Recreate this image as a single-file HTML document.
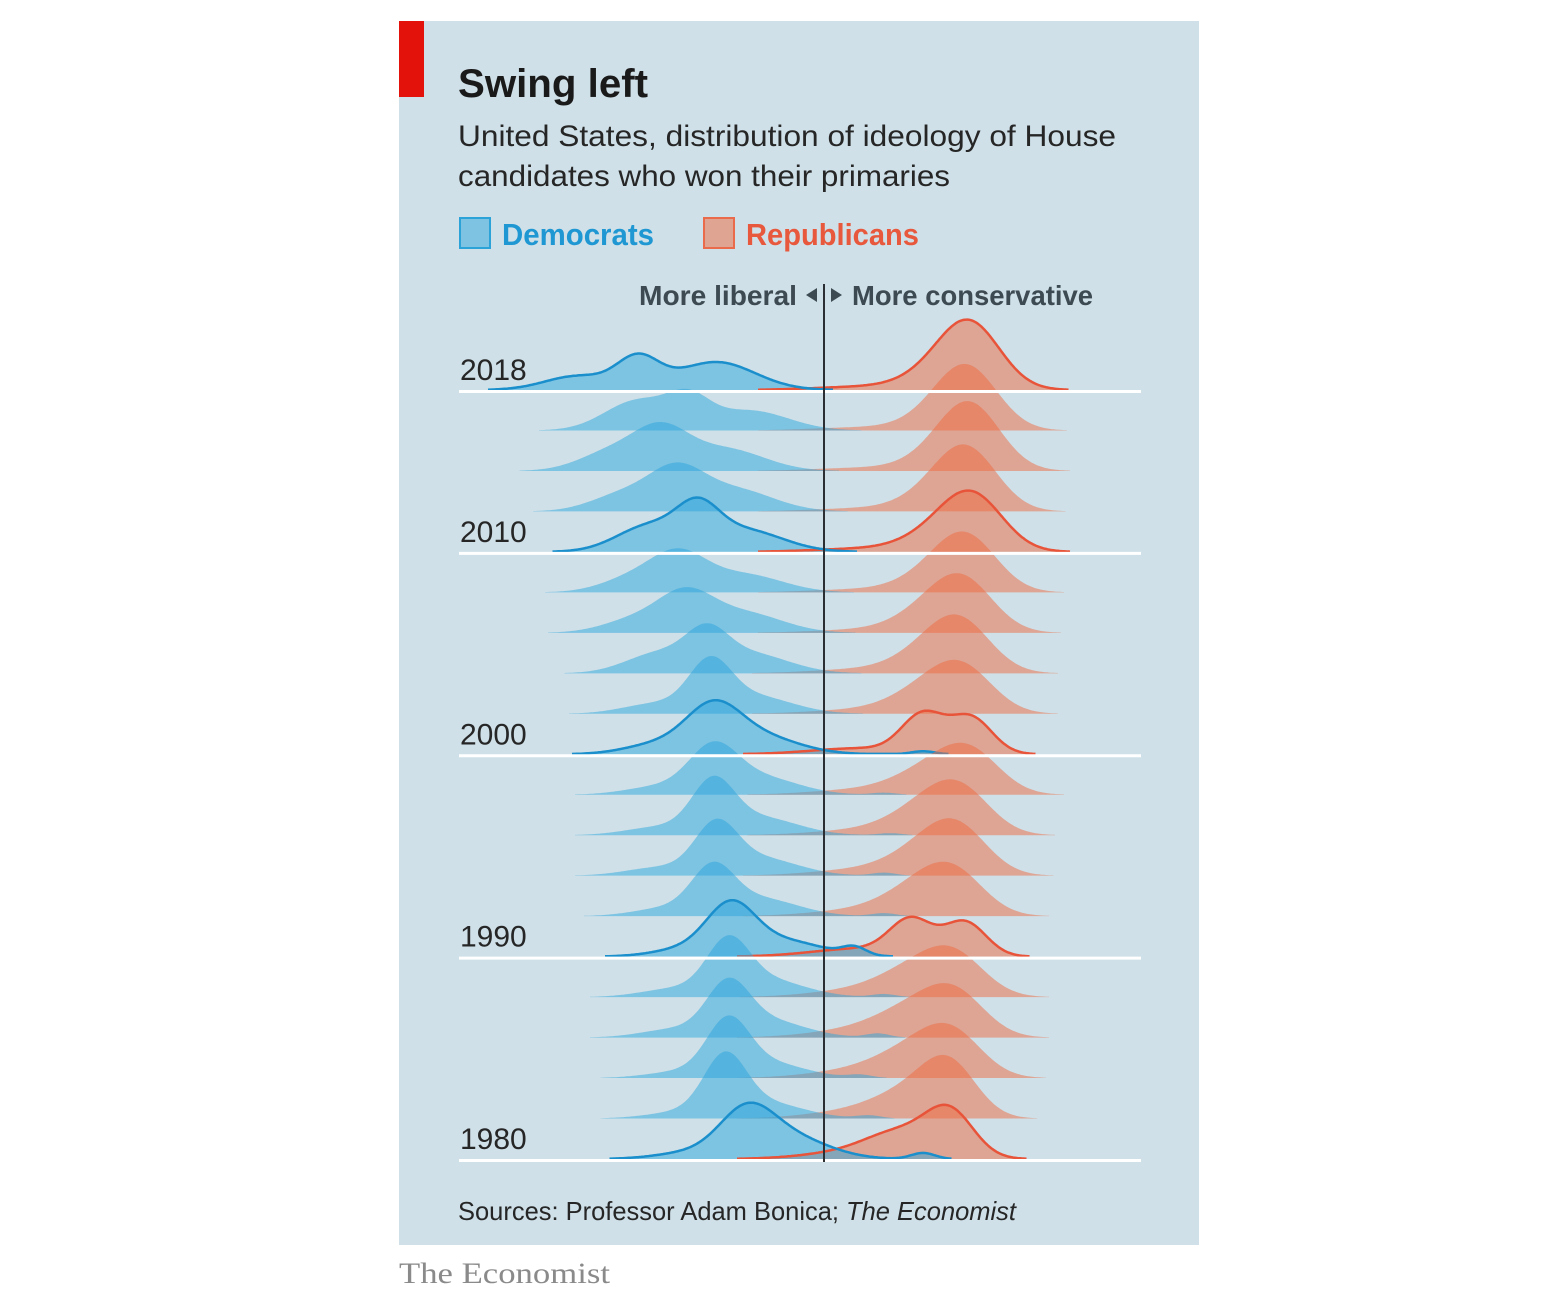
<!DOCTYPE html>
<html><head><meta charset="utf-8"><style>
html,body{margin:0;padding:0;background:#fff;}
svg{display:block;}
text{font-family:"Liberation Sans",sans-serif;}
</style></head><body>
<svg id="chart" width="1554" height="1296" viewBox="0 0 1554 1296" xmlns="http://www.w3.org/2000/svg">
<rect x="399" y="21" width="800" height="1224" fill="#cfe0e8"/>
<rect x="399" y="21" width="25" height="76" fill="#e3120b"/>
<text x="458" y="97" font-size="40" font-weight="bold" fill="#1a1a1a" textLength="190" lengthAdjust="spacingAndGlyphs">Swing left</text>
<text x="458" y="146" font-size="30" fill="#262626" textLength="658" lengthAdjust="spacingAndGlyphs">United States, distribution of ideology of House</text>
<text x="458" y="186" font-size="30" fill="#262626" textLength="492" lengthAdjust="spacingAndGlyphs">candidates who won their primaries</text>
<g>
<rect x="460" y="218" width="30" height="30" fill="#7ec3e2" stroke="#2ba3d8" stroke-width="2"/>
<text x="502" y="245" font-size="31" font-weight="bold" fill="#1f97d2" textLength="152" lengthAdjust="spacingAndGlyphs">Democrats</text>
<rect x="704" y="218" width="30" height="30" fill="#dfa592" stroke="#ea6a4c" stroke-width="2"/>
<text x="746" y="245" font-size="31" font-weight="bold" fill="#e8583c" textLength="173" lengthAdjust="spacingAndGlyphs">Republicans</text>
</g>
<text x="639" y="305" font-size="28" font-weight="bold" fill="#3d4a52" textLength="158" lengthAdjust="spacingAndGlyphs">More liberal</text>
<polygon points="817,288 817,302 806,295" fill="#3d4a52"/>
<polygon points="831,288 831,302 842,295" fill="#3d4a52"/>
<text x="852" y="305" font-size="28" font-weight="bold" fill="#3d4a52" textLength="241" lengthAdjust="spacingAndGlyphs">More conservative</text>
<g id="ridges"></g>
<g id="overlay"></g>
<text x="458" y="1220" font-size="26" fill="#262626" textLength="558" lengthAdjust="spacingAndGlyphs">Sources: Professor Adam Bonica; <tspan font-style="italic">The Economist</tspan></text>
<text x="399" y="1283" font-size="30" fill="#8a8a8a" textLength="211" lengthAdjust="spacingAndGlyphs" style="font-family:'Liberation Serif',serif">The Economist</text>
</svg>
<script>
const years = [1980,1982,1984,1986,1988,1990,1992,1994,1996,1998,2000,2002,2004,2006,2008,2010,2012,2014,2016,2018];
const labelYears = [1980,1990,2000,2010,2018];
// Democrats: main peak, moderate shoulder, liberal tail, southern conservative bump
const demCenter = [-0.26,-0.33,-0.32,-0.32,-0.32,-0.31,-0.37,-0.36,-0.37,-0.37,-0.37,-0.38,-0.39,-0.46,-0.48,-0.42,-0.49,-0.54,-0.45,-0.62];
const demSpread = [0.09,0.07,0.07,0.07,0.07,0.08,0.07,0.07,0.07,0.08,0.09,0.07,0.07,0.09,0.09,0.07,0.09,0.09,0.07,0.07];
const demHeight = [42,55,50,46,48,46,42,45,48,42,42,45,32,34,32,34,36,36,26,30];
const demShoulderCenter = [-0.12,-0.2,-0.2,-0.2,-0.2,-0.14,-0.22,-0.22,-0.22,-0.22,-0.22,-0.24,-0.25,-0.27,-0.27,-0.27,-0.3,-0.33,-0.25,-0.36];
const demShoulderHeight = [22,16,16,18,18,16,18,18,18,18,18,18,20,20,18,22,22,22,20,28];
const demLeftCenter = [-0.45,-0.48,-0.48,-0.5,-0.5,-0.45,-0.52,-0.55,-0.55,-0.55,-0.55,-0.56,-0.55,-0.62,-0.62,-0.58,-0.66,-0.7,-0.62,-0.82];
const demLeftHeight = [6,6,6,8,8,8,8,8,8,8,10,10,20,14,16,26,18,20,30,14];
const demSouthCenter = [0.33,0.15,0.12,0.18,0.2,0.1,0.2,0.2,0.22,0.2,0.33,0,0,0,0,0,0,0,0,0];
const demSouthHeight = [6,3,3,4,3,8,3,3,2,2,3,0,0,0,0,0,0,0,0,0];
// Republicans: moderate hump, main hump, broad left tail
const repCenter1 = [0.26,0.3,0.3,0.3,0.31,0.29,0.33,0.35,0.35,0.36,0.33,0.36,0.38,0.38,0.4,0.4,0.4,0.42,0.42,0.4];
const repSpread1 = [0.11,0.12,0.12,0.12,0.12,0.07,0.12,0.12,0.12,0.12,0.07,0.12,0.12,0.12,0.12,0.12,0.12,0.12,0.12,0.12];
const repHeight1 = [22,24,24,25,25,34,28,26,28,24,38,26,26,26,22,20,20,18,18,18];
const repCenter2 = [0.42,0.42,0.43,0.44,0.44,0.47,0.44,0.45,0.46,0.49,0.49,0.47,0.46,0.47,0.48,0.5,0.48,0.49,0.48,0.49];
const repSpread2 = [0.08,0.09,0.1,0.1,0.1,0.07,0.1,0.1,0.1,0.1,0.07,0.1,0.1,0.1,0.1,0.1,0.1,0.1,0.1,0.1];
const repHeight2 = [44,46,38,38,34,34,32,36,34,36,36,34,36,38,42,46,50,54,50,56];
const repTailHeight = [8,8,8,8,7,8,6,6,5,5,6,4,4,3,3,3,3,3,3,3];

const NS='http://www.w3.org/2000/svg';
const xScale = v => 824 + v*300;
const yBase = i => 1159 - i*(1159-390)/(years.length-1);
const g = (x,c,s,h) => h*Math.exp(-0.5*((x-c)/s)**2);
function demD(i,v){return g(v,demCenter[i],demSpread[i],demHeight[i])+g(v,demShoulderCenter[i],0.13,demShoulderHeight[i])+g(v,demLeftCenter[i],0.11,demLeftHeight[i])+g(v,demSouthCenter[i],0.04,demSouthHeight[i]);}
function repD(i,v){return g(v,repCenter1[i],repSpread1[i],repHeight1[i])+g(v,repCenter2[i],repSpread2[i],repHeight2[i])+g(v,0.12,0.16,repTailHeight[i]);}
function build(fn,i,lo,hi){
  const pts=[];const b=yBase(i);
  for(let v=lo;v<=hi+1e-9;v+=0.005){const d=fn(i,v);if(d<0.3)continue;pts.push([xScale(v),b-d]);}
  if(!pts.length)return null;
  const line='M'+pts.map(p=>p[0].toFixed(1)+','+p[1].toFixed(1)).join('L');
  const area=`M${pts[0][0].toFixed(1)},${b}L`+pts.map(p=>p[0].toFixed(1)+','+p[1].toFixed(1)).join('L')+`L${pts[pts.length-1][0].toFixed(1)},${b}Z`;
  return {line,area};
}
const ridges=document.getElementById('ridges');
const overlay=document.getElementById('overlay');
for(let i=years.length-1;i>=0;i--){
  const grp=document.createElementNS(NS,'g');
  
  
  const hl=labelYears.includes(years[i]);
  const r=build(repD,i,-0.35,1.1), d=build(demD,i,-1.2,0.5);
  const rp=document.createElementNS(NS,'path');
  rp.setAttribute('d',r.area);rp.setAttribute('fill','#ee6a40');rp.setAttribute('fill-opacity','0.5');
  
  
  grp.appendChild(rp);
  const dp=document.createElementNS(NS,'path');
  dp.setAttribute('d',d.area);dp.setAttribute('fill','#2ca5db');dp.setAttribute('fill-opacity','0.5');
  
  
  grp.appendChild(dp);
  if(hl){
    const rl=document.createElementNS(NS,'path');
    rl.setAttribute('d',r.line);rl.setAttribute('fill','none');rl.setAttribute('stroke','#e8543a');rl.setAttribute('stroke-width','2.5');
    
    
    grp.appendChild(rl);
    const dl=document.createElementNS(NS,'path');
    dl.setAttribute('d',d.line);dl.setAttribute('fill','none');dl.setAttribute('stroke','#1a8fcc');dl.setAttribute('stroke-width','2.5');
    
    
    grp.appendChild(dl);
  }
  ridges.appendChild(grp);
}
labelYears.forEach(y=>{
  const i=years.indexOf(y), b=yBase(i);
  const ln=document.createElementNS(NS,'line');
  ln.setAttribute('x1',459);ln.setAttribute('x2',1141);ln.setAttribute('y1',b+1.5);ln.setAttribute('y2',b+1.5);
  ln.setAttribute('stroke','#ffffff');ln.setAttribute('stroke-width','3');
  
  
  overlay.appendChild(ln);
  const t=document.createElementNS(NS,'text');
  t.setAttribute('x',460);t.setAttribute('y',b-10);t.setAttribute('font-size','30');t.setAttribute('fill','#262626');
  
  
  t.textContent=y;
  overlay.appendChild(t);
});
const cl=document.createElementNS(NS,'line');
cl.setAttribute('x1',824);cl.setAttribute('x2',824);cl.setAttribute('y1',284);cl.setAttribute('y2',1162);
cl.setAttribute('stroke','#2b2f33');cl.setAttribute('stroke-width','2');


overlay.appendChild(cl);
</script>
</body></html>
